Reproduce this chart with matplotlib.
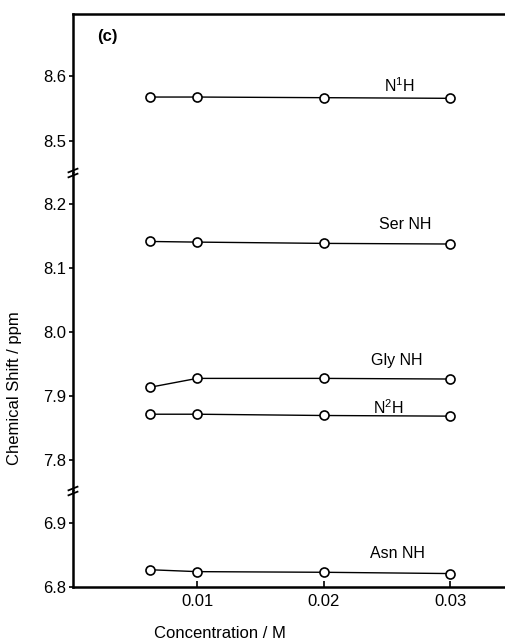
import matplotlib
matplotlib.use("Agg")
import matplotlib.pyplot as plt

plt.rcParams['font.family'] = ['Liberation Sans', 'DejaVu Sans']
plt.rcParams['mathtext.fontset'] = 'custom'
plt.rcParams['mathtext.rm'] = 'Liberation Sans'
plt.rcParams['mathtext.default'] = 'regular'

# concentrations (M)
conc = [0.00625, 0.01, 0.02, 0.03]

# chemical shifts (ppm)
n1h = [8.568, 8.568, 8.567, 8.566]
ser_nh = [8.142, 8.141, 8.139, 8.138]
gly_nh = [7.914, 7.928, 7.928, 7.927]
n2h = [7.872, 7.872, 7.870, 7.869]
asn_nh = [6.827, 6.824, 6.823, 6.821]

labels = ["N$^{1}$H", "Ser NH", "Gly NH", "N$^{2}$H", "Asn NH"]
label_pos = [(0.0260, 8.586), (0.0264, 8.168), (0.0258, 7.956),
             (0.0251, 7.883), (0.0258, 6.853)]

x_ticks = [0.01, 0.02, 0.03]
top_ticks = [8.5, 8.6]
mid_ticks = [7.8, 7.9, 8.0, 8.1, 8.2]
bot_ticks = [6.8, 6.9]

W, H = 506, 642
fig = plt.figure(figsize=(W / 100, H / 100), dpi=100)
gs = fig.add_gridspec(3, 1, height_ratios=[159, 318, 96], hspace=0,
                      left=73 / W, right=1.0,
                      bottom=1 - 587 / H, top=1 - 14 / H)
ax_top = fig.add_subplot(gs[0])
ax_mid = fig.add_subplot(gs[1], sharex=ax_top)
ax_bot = fig.add_subplot(gs[2], sharex=ax_top)
axes = [ax_top, ax_mid, ax_bot]

ax_top.set_ylim(8.45, 8.697)
ax_mid.set_ylim(7.752, 8.249)
ax_bot.set_ylim(6.8, 6.95)
ax_bot.set_xlim(0.0002, 0.0344)

ax_top.set_yticks(top_ticks)
ax_mid.set_yticks(mid_ticks)
ax_bot.set_yticks(bot_ticks)
ax_bot.set_xticks(x_ticks)
ax_bot.set_xticklabels([f"{t:.2f}" for t in x_ticks])

for ax in axes:
    ax.spines['right'].set_visible(False)
    ax.spines['left'].set_linewidth(1.8)
    ax.spines['top'].set_linewidth(1.8)
    ax.spines['bottom'].set_linewidth(1.8)
    ax.tick_params(axis='y', direction='out', length=3, width=1.2,
                   labelsize=12, pad=2)
    ax.tick_params(axis='x', direction='in', length=4, width=1.2,
                   labelsize=12, pad=5)
    ax.set_yticklabels([f"{t:.1f}" for t in ax.get_yticks()])

ax_top.spines['bottom'].set_visible(False)
ax_mid.spines['top'].set_visible(False)
ax_mid.spines['bottom'].set_visible(False)
ax_bot.spines['top'].set_visible(False)
ax_top.tick_params(axis='x', bottom=False, labelbottom=False)
ax_mid.tick_params(axis='x', bottom=False, labelbottom=False)

style = dict(color='black', lw=1.0, marker='o', markersize=6.5,
             markerfacecolor='white', markeredgecolor='black',
             markeredgewidth=1.2)
ax_top.plot(conc, n1h, **style)
ax_mid.plot(conc, ser_nh, **style)
ax_mid.plot(conc, gly_nh, **style)
ax_mid.plot(conc, n2h, **style)
ax_bot.plot(conc, asn_nh, **style)

label_axes = [ax_top, ax_mid, ax_mid, ax_mid, ax_bot]
for ax, text, (lx, ly) in zip(label_axes, labels, label_pos):
    ax.text(lx, ly, text, ha='center', va='center', fontsize=11.5)

# break marks "//" on the left spine (figure pixels)
for yb in (173, 491):
    for off in (-2.5, 2.5):
        fig.add_artist(plt.Line2D([(73 - 4.5) / W, (73 + 4.5) / W],
                                  [1 - (yb + off + 1.8) / H, 1 - (yb + off - 1.8) / H],
                                  transform=fig.transFigure, color='black', lw=1.3))

fig.text(107 / W, 1 - 36 / H, "(c)", ha='center', va='center',
         fontsize=12, fontweight='bold')
fig.text(15 / W, 1 - 388 / H, "Chemical Shift / ppm", rotation=90,
         ha='center', va='center', fontsize=12)
fig.text(220 / W, 1 - 633 / H, "Concentration / M", ha='center',
         va='center', fontsize=12)

fig.savefig("out.png", dpi=100)
